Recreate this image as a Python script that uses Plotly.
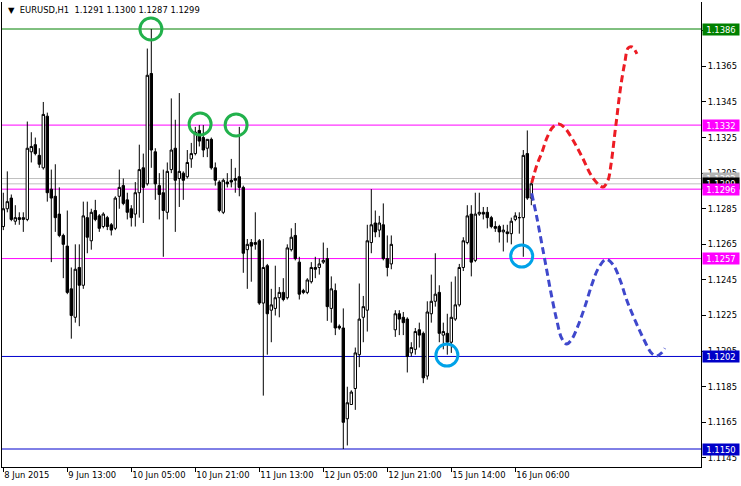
import plotly.graph_objects as go

# ---------------- data (EURUSD H1) ----------------
bar_index = list(range(133))
opens = [1.1275,1.1285,1.1291,1.1278,1.1280,1.1279,1.1279,1.1317,1.1321,1.1315,
         1.1308,1.1337,1.1296,1.1292,1.1282,1.1270,1.1264,1.1240,1.1224,1.1252,
         1.1242,1.1280,1.1267,1.1284,1.1281,1.1275,1.1280,1.1276,1.1274,1.1292,
         1.1298,1.1290,1.1285,1.1282,1.1294,1.1308,1.1299,1.1361,1.1317,1.1298,
         1.1294,1.1283,1.1307,1.1319,1.1302,1.1305,1.1303,1.1313,1.1316,1.1329,
         1.1325,1.1319,1.1324,1.1308,1.1300,1.1283,1.1300,1.1301,1.1302,1.1303,
         1.1297,1.1262,1.1266,1.1266,1.1267,1.1232,1.1253,1.1228,1.1229,1.1235,
         1.1238,1.1235,1.1262,1.1270,1.1255,1.1239,1.1238,1.1244,1.1252,1.1252,
         1.1255,1.1257,1.1229,1.1239,1.1219,1.1218,1.1167,1.1175,1.1184,1.1203,
         1.1224,1.1228,1.1266,1.1277,1.1273,1.1276,1.1257,1.1254,1.1217,1.1226,
         1.1224,1.1223,1.1204,1.1206,1.1217,1.1215,1.1191,1.1226,1.1233,1.1238,
         1.1214,1.1215,1.1210,1.1223,1.1231,1.1252,1.1266,1.1282,1.1256,1.1282,
         1.1283,1.1283,1.1280,1.1275,1.1275,1.1272,1.1272,1.1271,1.1279,1.1280,
         1.1280,1.1316,1.1291]
highs = [1.1294,1.1306,1.1293,1.1287,1.1283,1.1283,1.1334,1.1328,1.1325,1.1319,
         1.1345,1.1339,1.1307,1.1310,1.1297,1.1271,1.1284,1.1252,1.1265,1.1265,
         1.1289,1.1289,1.1285,1.1290,1.1282,1.1283,1.1281,1.1277,1.1292,1.1307,
         1.1302,1.1294,1.1287,1.1300,1.1321,1.1316,1.1375,1.1386,1.1319,1.1305,
         1.1307,1.1311,1.1347,1.1335,1.1350,1.1306,1.1318,1.1322,1.1331,1.1332,
         1.1332,1.1324,1.1325,1.1311,1.1301,1.1302,1.1305,1.1313,1.1308,1.1331,
         1.1298,1.1268,1.1268,1.1283,1.1268,1.1268,1.1254,1.1240,1.1253,1.1241,
         1.1246,1.1265,1.1274,1.1277,1.1258,1.1240,1.1246,1.1255,1.1258,1.1257,
         1.1266,1.1263,1.1247,1.1243,1.1220,1.1229,1.1185,1.1183,1.1207,1.1243,
         1.1236,1.1276,1.1296,1.1284,1.1281,1.1288,1.1270,1.1270,1.1228,1.1228,
         1.1227,1.1224,1.1210,1.1218,1.1221,1.1216,1.1233,1.1248,1.1260,1.1242,
         1.1221,1.1226,1.1244,1.1247,1.1254,1.1269,1.1287,1.1287,1.1294,1.1294,
         1.1286,1.1286,1.1281,1.1278,1.1276,1.1276,1.1276,1.1280,1.1283,1.1283,
         1.1318,1.1329,1.1300]
lows = [1.1273,1.1283,1.1278,1.1276,1.1276,1.1272,1.1278,1.1311,1.1315,1.1308,
        1.1307,1.1289,1.1255,1.1272,1.1269,1.1246,1.1237,1.1212,1.1221,1.1219,
        1.1240,1.1260,1.1262,1.1278,1.1272,1.1274,1.1273,1.1270,1.1273,1.1285,
        1.1287,1.1279,1.1275,1.1275,1.1280,1.1277,1.1298,1.1308,1.1290,1.1279,
        1.1258,1.1279,1.1305,1.1272,1.1286,1.1290,1.1302,1.1308,1.1315,1.1320,
        1.1314,1.1314,1.1307,1.1298,1.1283,1.1282,1.1297,1.1297,1.1294,1.1292,
        1.1249,1.1240,1.1244,1.1262,1.1231,1.1180,1.1203,1.1210,1.1225,1.1224,
        1.1233,1.1234,1.1261,1.1256,1.1234,1.1237,1.1237,1.1243,1.1246,1.1248,
        1.1254,1.1222,1.1221,1.1214,1.1217,1.1150,1.1152,1.1175,1.1172,1.1196,
        1.1210,1.1216,1.1260,1.1269,1.1269,1.1256,1.1247,1.1251,1.1213,1.1214,
        1.1214,1.1193,1.1202,1.1203,1.1207,1.1187,1.1189,1.1221,1.1230,1.1210,
        1.1206,1.1203,1.1204,1.1222,1.1230,1.1250,1.1265,1.1247,1.1255,1.1281,
        1.1279,1.1274,1.1274,1.1272,1.1266,1.1261,1.1266,1.1265,1.1278,1.1271,
        1.1258,1.1290,1.1287]
closes = [1.1285,1.1289,1.1279,1.1280,1.1279,1.1280,1.1319,1.1320,1.1316,1.1310,
          1.1338,1.1294,1.1291,1.1280,1.1270,1.1265,1.1238,1.1225,1.1251,1.1242,
          1.1281,1.1269,1.1283,1.1279,1.1274,1.1282,1.1275,1.1273,1.1291,1.1297,
          1.1288,1.1283,1.1280,1.1294,1.1307,1.1297,1.1360,1.1318,1.1299,1.1293,
          1.1284,1.1306,1.1318,1.1301,1.1306,1.1301,1.1311,1.1316,1.1328,1.1323,
          1.1318,1.1324,1.1308,1.1301,1.1284,1.1301,1.1299,1.1300,1.1301,1.1297,
          1.1260,1.1265,1.1264,1.1265,1.1232,1.1252,1.1226,1.1231,1.1235,1.1238,
          1.1234,1.1263,1.1269,1.1257,1.1237,1.1238,1.1245,1.1252,1.1251,1.1254,
          1.1256,1.1230,1.1240,1.1218,1.1218,1.1165,1.1176,1.1182,1.1204,1.1223,
          1.1230,1.1267,1.1276,1.1272,1.1277,1.1257,1.1252,1.1265,1.1226,1.1223,
          1.1221,1.1202,1.1207,1.1216,1.1214,1.1190,1.1227,1.1233,1.1237,1.1215,
          1.1216,1.1210,1.1224,1.1231,1.1252,1.1267,1.1281,1.1255,1.1282,1.1283,
          1.1282,1.1280,1.1275,1.1274,1.1272,1.1273,1.1271,1.1278,1.1281,1.1280,
          1.1315,1.1291,1.1299]

time_tick_index = [0, 16, 32, 48, 64, 80, 96, 112, 128]
time_tick_labels = ["8 Jun 2015", "9 Jun 13:00", "10 Jun 05:00", "10 Jun 21:00",
                    "11 Jun 13:00", "12 Jun 05:00", "12 Jun 21:00", "15 Jun 14:00",
                    "16 Jun 06:00"]

price_ticks = [1.1145, 1.1165, 1.1185, 1.1205, 1.1225, 1.1245, 1.1265, 1.1285,
               1.1305, 1.1325, 1.1345, 1.1365, 1.1385]

# horizontal levels (drawn objects + bid/ask)
level_prices = [1.1386, 1.1332, 1.1302, 1.1299, 1.1296, 1.1257, 1.1202, 1.1150]
level_line_colors = ["#008000", "#FF00FF", "#C0C0C0", "#C0C0C0", "#FF00FF", "#FF00FF", "#0000CD", "#0000CD"]
level_label_colors = ["#008000", "#FF00FF", "#B4B4B4", "#000000", "#FF00FF", "#FF00FF", "#0000C8", "#0000C8"]

# hand-drawn projections (bar index, price)
red_x = [132.1, 133.4, 134.7, 135.9, 137.4, 138.9, 140.4, 142.4, 144.7, 147.4, 149.9,
         151.2, 151.9, 152.4, 152.9, 153.4, 153.9, 154.6, 155.4, 156.2, 157.2, 158.4]
red_y = [1.12995, 1.13096, 1.13169, 1.13248, 1.13309, 1.13326, 1.13304, 1.13236, 1.13141,
         1.13023, 1.12972, 1.13012, 1.13096, 1.13180, 1.13276, 1.13366, 1.13461, 1.13573,
         1.13675, 1.13753, 1.13759, 1.13720]
blue_x = [132.1, 133.35, 134.6, 135.85, 137.1, 138.35, 139.6, 140.85, 142.1, 143.75, 145.4,
          147.1, 148.75, 150.7, 152.5, 154.2, 155.85, 157.9, 160.0, 162.1, 163.35, 164.6, 165.4]
blue_y = [1.12937, 1.12805, 1.12656, 1.12506, 1.12356, 1.12225, 1.12122, 1.12090, 1.12116,
          1.12197, 1.12300, 1.12421, 1.12515, 1.12566, 1.12534, 1.12450, 1.12337, 1.12225,
          1.12122, 1.12038, 1.12023, 1.12041, 1.12066]

# circle marks
green_circle_x = [36.9, 49.2, 58.2]
green_circle_y = [1.1386, 1.13326, 1.13321]
cyan_circle_x = [110.9, 129.6]
cyan_circle_y = [1.12028, 1.12584]

FONT = "DejaVu Sans"
FS = 8.4

fig = go.Figure()
fig.add_trace(go.Candlestick(
    x=bar_index, open=opens, high=highs, low=lows, close=closes,
    increasing=dict(line=dict(color="black", width=1), fillcolor="white"),
    decreasing=dict(line=dict(color="black", width=1), fillcolor="black"),
    whiskerwidth=0, hoverinfo="skip", showlegend=False))

fig.add_trace(go.Scatter(x=red_x, y=red_y, mode="lines", showlegend=False, hoverinfo="skip",
                         line=dict(color="#ED1C24", width=3, dash="7px,4px", shape="spline")))
fig.add_trace(go.Scatter(x=blue_x, y=blue_y, mode="lines", showlegend=False, hoverinfo="skip",
                         line=dict(color="#3F48CC", width=3, dash="7px,4px", shape="spline")))
fig.add_trace(go.Scatter(x=green_circle_x, y=green_circle_y, mode="markers", showlegend=False,
                         hoverinfo="skip",
                         marker=dict(symbol="circle-open", size=22, color="#22B14C",
                                     line=dict(width=3, color="#22B14C"))))
fig.add_trace(go.Scatter(x=cyan_circle_x, y=cyan_circle_y, mode="markers", showlegend=False,
                         hoverinfo="skip",
                         marker=dict(symbol="circle-open", size=22, color="#00A2E8",
                                     line=dict(width=3, color="#00A2E8"))))

shapes = []
for p, c in zip(level_prices, level_line_colors):
    shapes.append(dict(type="line", xref="paper", x0=0, x1=1, yref="y", y0=p, y1=p,
                       line=dict(color=c, width=1), layer="below"))

annotations = []
for p, c in zip(level_prices, level_label_colors):
    annotations.append(dict(xref="paper", x=1, xanchor="left", xshift=1, yref="y", y=p,
                            yanchor="middle", text=f"{p:.4f}", showarrow=False,
                            font=dict(family=FONT, size=FS, color="white"),
                            bgcolor=c, width=36, height=11, borderpad=0, align="center"))
annotations.append(dict(xref="paper", x=0, xanchor="left", xshift=4, yref="paper", y=1,
                        yanchor="top", yshift=-1, showarrow=False, align="left",
                        text="▼&nbsp;&nbsp;EURUSD,H1&nbsp;&nbsp;%.4f %.4f %.4f %.4f" % (opens[-1], highs[-1], lows[-1], closes[-1]),
                        font=dict(family=FONT, size=FS, color="black")))

fig.update_layout(
    width=741, height=486,
    margin=dict(l=2, r=40, t=2, b=19, autoexpand=False),
    paper_bgcolor="white", plot_bgcolor="white",
    boxgap=0.4, boxgroupgap=0,
    shapes=shapes, annotations=annotations,
    font=dict(family=FONT, size=FS, color="black"),
    xaxis=dict(range=[-0.325, 174.425], rangeslider=dict(visible=False), automargin=False,
               tickmode="array", tickvals=time_tick_index, ticktext=time_tick_labels,
               ticks="outside", ticklen=4, tickcolor="black", ticklabelposition="outside right",
               showgrid=False, zeroline=False, showline=True, linecolor="black", linewidth=1,
               tickfont=dict(family=FONT, size=FS, color="black"), fixedrange=True),
    yaxis=dict(range=[1.113989, 1.140117], side="right", tickmode="array", tickvals=price_ticks,
               tickformat=".4f", ticks="outside", ticklen=4, tickcolor="black", automargin=False,
               showgrid=False, zeroline=False, showline=True, mirror=True,
               linecolor="black", linewidth=1,
               tickfont=dict(family=FONT, size=FS, color="black"), fixedrange=True),
)

fig.write_html("out.html", config={"displayModeBar": False},
               post_script="document.body.style.margin='0px';document.body.style.overflow='hidden';")
